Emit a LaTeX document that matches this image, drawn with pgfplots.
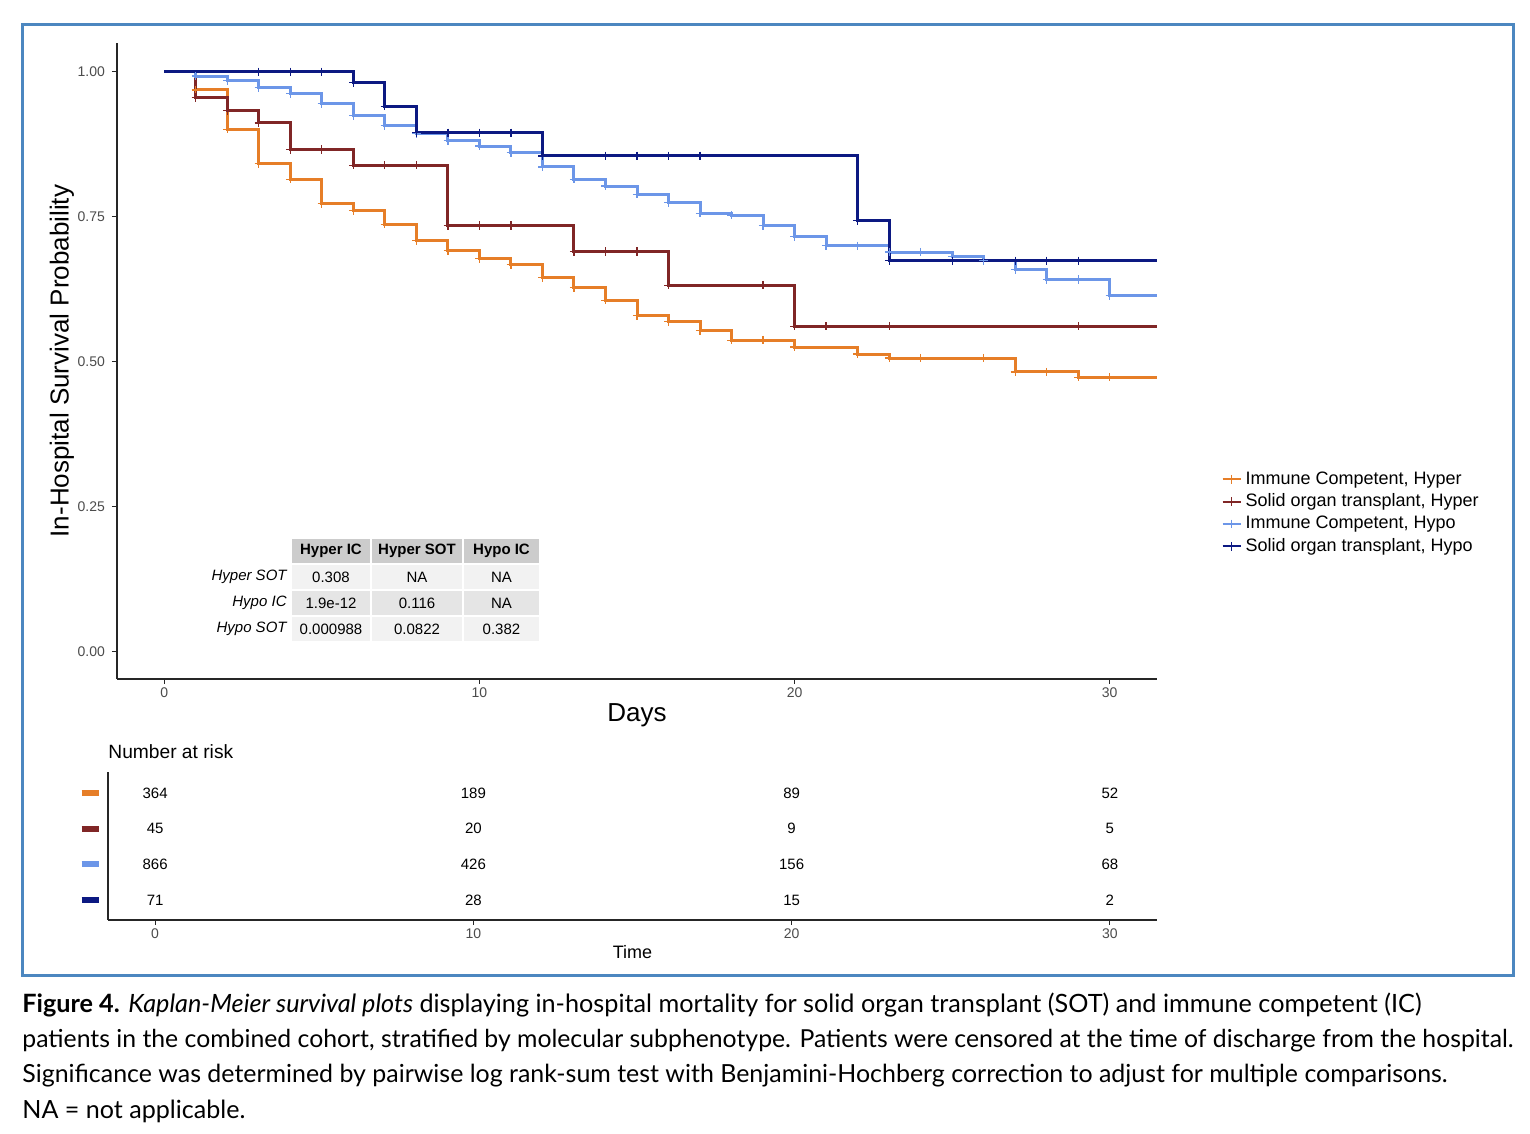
\documentclass[border=0pt]{standalone}
\usepackage{fontspec}
\setmainfont{Liberation Sans}
\newfontfamily\capfont{Lato}
\usepackage{graphicx}
\usepackage{pgfplots}
\usepackage{pgfplotstable}
\pgfplotsset{compat=1.18}

\definecolor{hyperIC}{RGB}{230,126,40}
\definecolor{hyperSOT}{RGB}{128,38,38}
\definecolor{hypoIC}{RGB}{108,150,232}
\definecolor{hypoSOT}{RGB}{12,25,130}
\definecolor{frameblue}{RGB}{76,135,192}
\definecolor{g80}{gray}{0.80}
\definecolor{g90}{gray}{0.90}
\definecolor{g95}{gray}{0.95}

% Kaplan-Meier steps: day, survival after that day
\pgfplotstableread{
day s
0 1.000
1 0.969
2 0.901
3 0.842
4 0.815
5 0.773
6 0.761
7 0.737
8 0.709
9 0.692
10 0.678
11 0.667
12 0.645
13 0.628
14 0.606
15 0.579
16 0.569
17 0.553
18 0.537
19 0.537
20 0.525
22 0.513
23 0.506
24 0.506
26 0.506
27 0.482
28 0.482
29 0.473
30 0.473
31.5 0.473
}\hyperic

\pgfplotstableread{
day s
0 1.000
1 0.956
2 0.933
3 0.912
4 0.866
5 0.866
6 0.839
7 0.839
8 0.839
9 0.735
10 0.735
11 0.735
13 0.690
14 0.690
15 0.690
16 0.632
19 0.632
20 0.561
21 0.561
23 0.561
29 0.561
31.5 0.561
}\hypersot

\pgfplotstableread{
day s
0 1.000
1 0.993
2 0.985
3 0.973
4 0.963
5 0.945
6 0.925
7 0.907
8 0.894
9 0.881
10 0.872
11 0.861
12 0.836
13 0.815
14 0.803
15 0.789
16 0.774
17 0.756
18 0.753
19 0.735
20 0.716
21 0.700
22 0.700
23 0.689
24 0.689
25 0.682
26 0.674
27 0.659
28 0.642
29 0.642
30 0.614
31.5 0.614
}\hypoic

\pgfplotstableread{
day s
0 1.000
3 1.000
4 1.000
5 1.000
6 0.982
7 0.941
8 0.895
9 0.895
10 0.895
11 0.895
12 0.855
14 0.855
15 0.855
16 0.855
17 0.855
22 0.743
23 0.674
25 0.674
27 0.674
28 0.674
29 0.674
31.5 0.674
}\hyposot

% number at risk: day, row, count
\pgfplotstableread{
day row n
0 4 364
10 4 189
20 4 89
30 4 52
0 3 45
10 3 20
20 3 9
30 3 5
0 2 866
10 2 426
20 2 156
30 2 68
0 1 71
10 1 28
20 1 15
30 1 2
}\risk

\begin{document}
\begin{tikzpicture}
\useasboundingbox (0pt,0pt) rectangle (765pt,567pt);
\fill[white] (0pt,0pt) rectangle (765pt,567pt);
\draw[frameblue, line width=1.5pt] (11pt,79pt) rectangle (756.5pt,554.5pt);

\begin{axis}[
    at={(58.5pt,227.5pt)}, anchor=south west,
    scale only axis, width=520pt, height=318pt,
    xmin=-1.5, xmax=31.5, ymin=-0.048, ymax=1.05,
    axis x line*=bottom, axis y line*=left,
    axis line style={-, black!85, line width=0.6pt},
    xtick={0,10,20,30}, ytick={0,0.25,0.5,0.75,1},
    /pgf/number format/assume math mode=true,
    yticklabel style={/pgf/number format/fixed, /pgf/number format/fixed zerofill, /pgf/number format/precision=2},
    xticklabel style={yshift=1.5pt},
    tick align=outside, major tick length=2.5pt,
    tick style={black!85, line width=0.5pt},
    ticklabel style={font=\fontsize{7}{8}\selectfont, text=black!70},
    xlabel={Days}, ylabel={In-Hospital Survival Probability},
    every axis x label/.style={at={(axis description cs:0.5,-0.0566)}, anchor=center},
    every axis y label/.style={at={(axis description cs:-0.053,0.5)}, rotate=90, anchor=center},
    label style={font=\fontsize{13}{15}\selectfont},
    legend style={at={(axis description cs:1.056,0.261)}, anchor=west, draw=none, fill=none,
        font=\fontsize{9}{11}\selectfont, row sep=-0.7pt},
    legend cell align=left,
    legend image code/.code={\draw[#1, mark repeat=2, mark phase=2] plot coordinates {(0pt,0pt) (4.5pt,0pt) (9pt,0pt)};},
    every axis plot/.append style={line width=1.5pt, mark size=2.1pt, mark options={line width=0.6pt}},
]
\addplot[const plot, hyperIC, forget plot] table {\hyperic};
\addplot[only marks, mark=+, hyperIC, restrict x to domain=0.5:31, forget plot] table {\hyperic};
\addplot[const plot, hyperSOT, forget plot] table {\hypersot};
\addplot[only marks, mark=+, hyperSOT, restrict x to domain=0.5:31, forget plot] table {\hypersot};
\addplot[const plot, hypoIC, forget plot] table {\hypoic};
\addplot[only marks, mark=+, hypoIC, restrict x to domain=0.5:31, forget plot] table {\hypoic};
\addplot[const plot, hypoSOT, forget plot] table {\hyposot};
\addplot[only marks, mark=+, hypoSOT, restrict x to domain=0.5:31, forget plot] table {\hyposot};

\addlegendimage{hyperIC, line width=1pt, mark=+, mark size=2.2pt, mark options={line width=0.6pt}}
\addlegendentry{Immune Competent, Hyper}
\addlegendimage{hyperSOT, line width=1pt, mark=+, mark size=2.2pt, mark options={line width=0.6pt}}
\addlegendentry{Solid organ transplant, Hyper}
\addlegendimage{hypoIC, line width=1pt, mark=+, mark size=2.2pt, mark options={line width=0.6pt}}
\addlegendentry{Immune Competent, Hypo}
\addlegendimage{hypoSOT, line width=1pt, mark=+, mark size=2.2pt, mark options={line width=0.6pt}}
\addlegendentry{Solid organ transplant, Hypo}
\end{axis}

% pairwise log-rank p-value table
\begin{scope}[every node/.style={font=\fontsize{7.5}{9}\selectfont, inner sep=0pt}]
\fill[g80] (146pt,285.5pt) rectangle (185pt,297.5pt);
\fill[g80] (186pt,285.5pt) rectangle (231pt,297.5pt);
\fill[g80] (232pt,285.5pt) rectangle (269.5pt,297.5pt);
\fill[g95] (146pt,272.5pt) rectangle (185pt,284.5pt);
\fill[g95] (186pt,272.5pt) rectangle (231pt,284.5pt);
\fill[g95] (232pt,272.5pt) rectangle (269.5pt,284.5pt);
\fill[g90] (146pt,259.5pt) rectangle (185pt,271.5pt);
\fill[g90] (186pt,259.5pt) rectangle (231pt,271.5pt);
\fill[g90] (232pt,259.5pt) rectangle (269.5pt,271.5pt);
\fill[g95] (146pt,246.5pt) rectangle (185pt,258.5pt);
\fill[g95] (186pt,246.5pt) rectangle (231pt,258.5pt);
\fill[g95] (232pt,246.5pt) rectangle (269.5pt,258.5pt);
\node at (165.5pt,291.5pt) {\bfseries Hyper IC};
\node at (208.5pt,291.5pt) {\bfseries Hyper SOT};
\node at (250.75pt,291.5pt) {\bfseries Hypo IC};
\node[anchor=east] at (143.5pt,278.5pt) {\itshape Hyper SOT};
\node[anchor=east] at (143.5pt,265.5pt) {\itshape Hypo IC};
\node[anchor=east] at (143.5pt,252.5pt) {\itshape Hypo SOT};
\node at (165.5pt,278.5pt) {0.308};
\node at (208.5pt,278.5pt) {NA};
\node at (250.75pt,278.5pt) {NA};
\node at (165.5pt,265.5pt) {1.9e-12};
\node at (208.5pt,265.5pt) {0.116};
\node at (250.75pt,265.5pt) {NA};
\node at (165.5pt,252.5pt) {0.000988};
\node at (208.5pt,252.5pt) {0.0822};
\node at (250.75pt,252.5pt) {0.382};
\end{scope}

% number at risk
\begin{axis}[
    at={(54pt,107pt)}, anchor=south west,
    scale only axis, width=524.5pt, height=74pt,
    xmin=-1.48, xmax=31.48, ymin=0.44, ymax=4.59,
    axis x line*=bottom, axis y line*=left,
    axis line style={-, black!85, line width=0.6pt},
    xtick={0,10,20,30}, ytick={1,2,3,4},
    yticklabels={\textcolor{hypoSOT}{\rule{8.5pt}{3pt}},\textcolor{hypoIC}{\rule{8.5pt}{3pt}},\textcolor{hyperSOT}{\rule{8.5pt}{3pt}},\textcolor{hyperIC}{\rule{8.5pt}{3pt}}},
    y tick style={draw=none},
    tick align=outside, major tick length=2.5pt,
    x tick style={black!85, line width=0.5pt},
    /pgf/number format/assume math mode=true,
    xticklabel style={font=\fontsize{7}{8}\selectfont, text=black!70, yshift=1.5pt},
    yticklabel style={inner sep=0pt, xshift=-2pt},
    xlabel={Time},
    every axis x label/.style={at={(axis description cs:0.5,-0.216)}, anchor=center},
    xlabel style={font=\fontsize{9}{11}\selectfont},
    title={Number at risk},
    every axis title/.style={at={(axis description cs:0,1.135)}, anchor=west, inner sep=0pt},
    title style={font=\fontsize{9.6}{11}\selectfont},
]
\addplot[only marks, mark=none, black, point meta=explicit symbolic,
    nodes near coords, every node near coord/.append style={anchor=center, font=\fontsize{7.5}{9}\selectfont, text=black}]
    table[x=day, y=row, meta=n] {\risk};
\end{axis}

% caption
\begin{scope}[every node/.style={anchor=base west, inner sep=0pt}]
\node at (11pt,60.5pt) {\resizebox{699.5pt}{!}{\capfont\fontsize{11.5}{14}\selectfont \textbf{Figure 4.} \textit{Kaplan-Meier survival plots} displaying in-hospital mortality for solid organ transplant (SOT) and immune competent (IC)}};
\node at (11pt,43pt) {\resizebox{745.5pt}{!}{\capfont\fontsize{11.5}{14}\selectfont patients in the combined cohort, stratified by molecular subphenotype. Patients were censored at the time of discharge from the hospital.}};
\node at (11pt,25.5pt) {\resizebox{712.5pt}{!}{\capfont\fontsize{11.5}{14}\selectfont Significance was determined by pairwise log rank-sum test with Benjamini-Hochberg correction to adjust for multiple comparisons.}};
\node at (11pt,8pt) {\resizebox{111.5pt}{!}{\capfont\fontsize{11.5}{14}\selectfont NA = not applicable.}};
\end{scope}
\end{tikzpicture}
\end{document}
